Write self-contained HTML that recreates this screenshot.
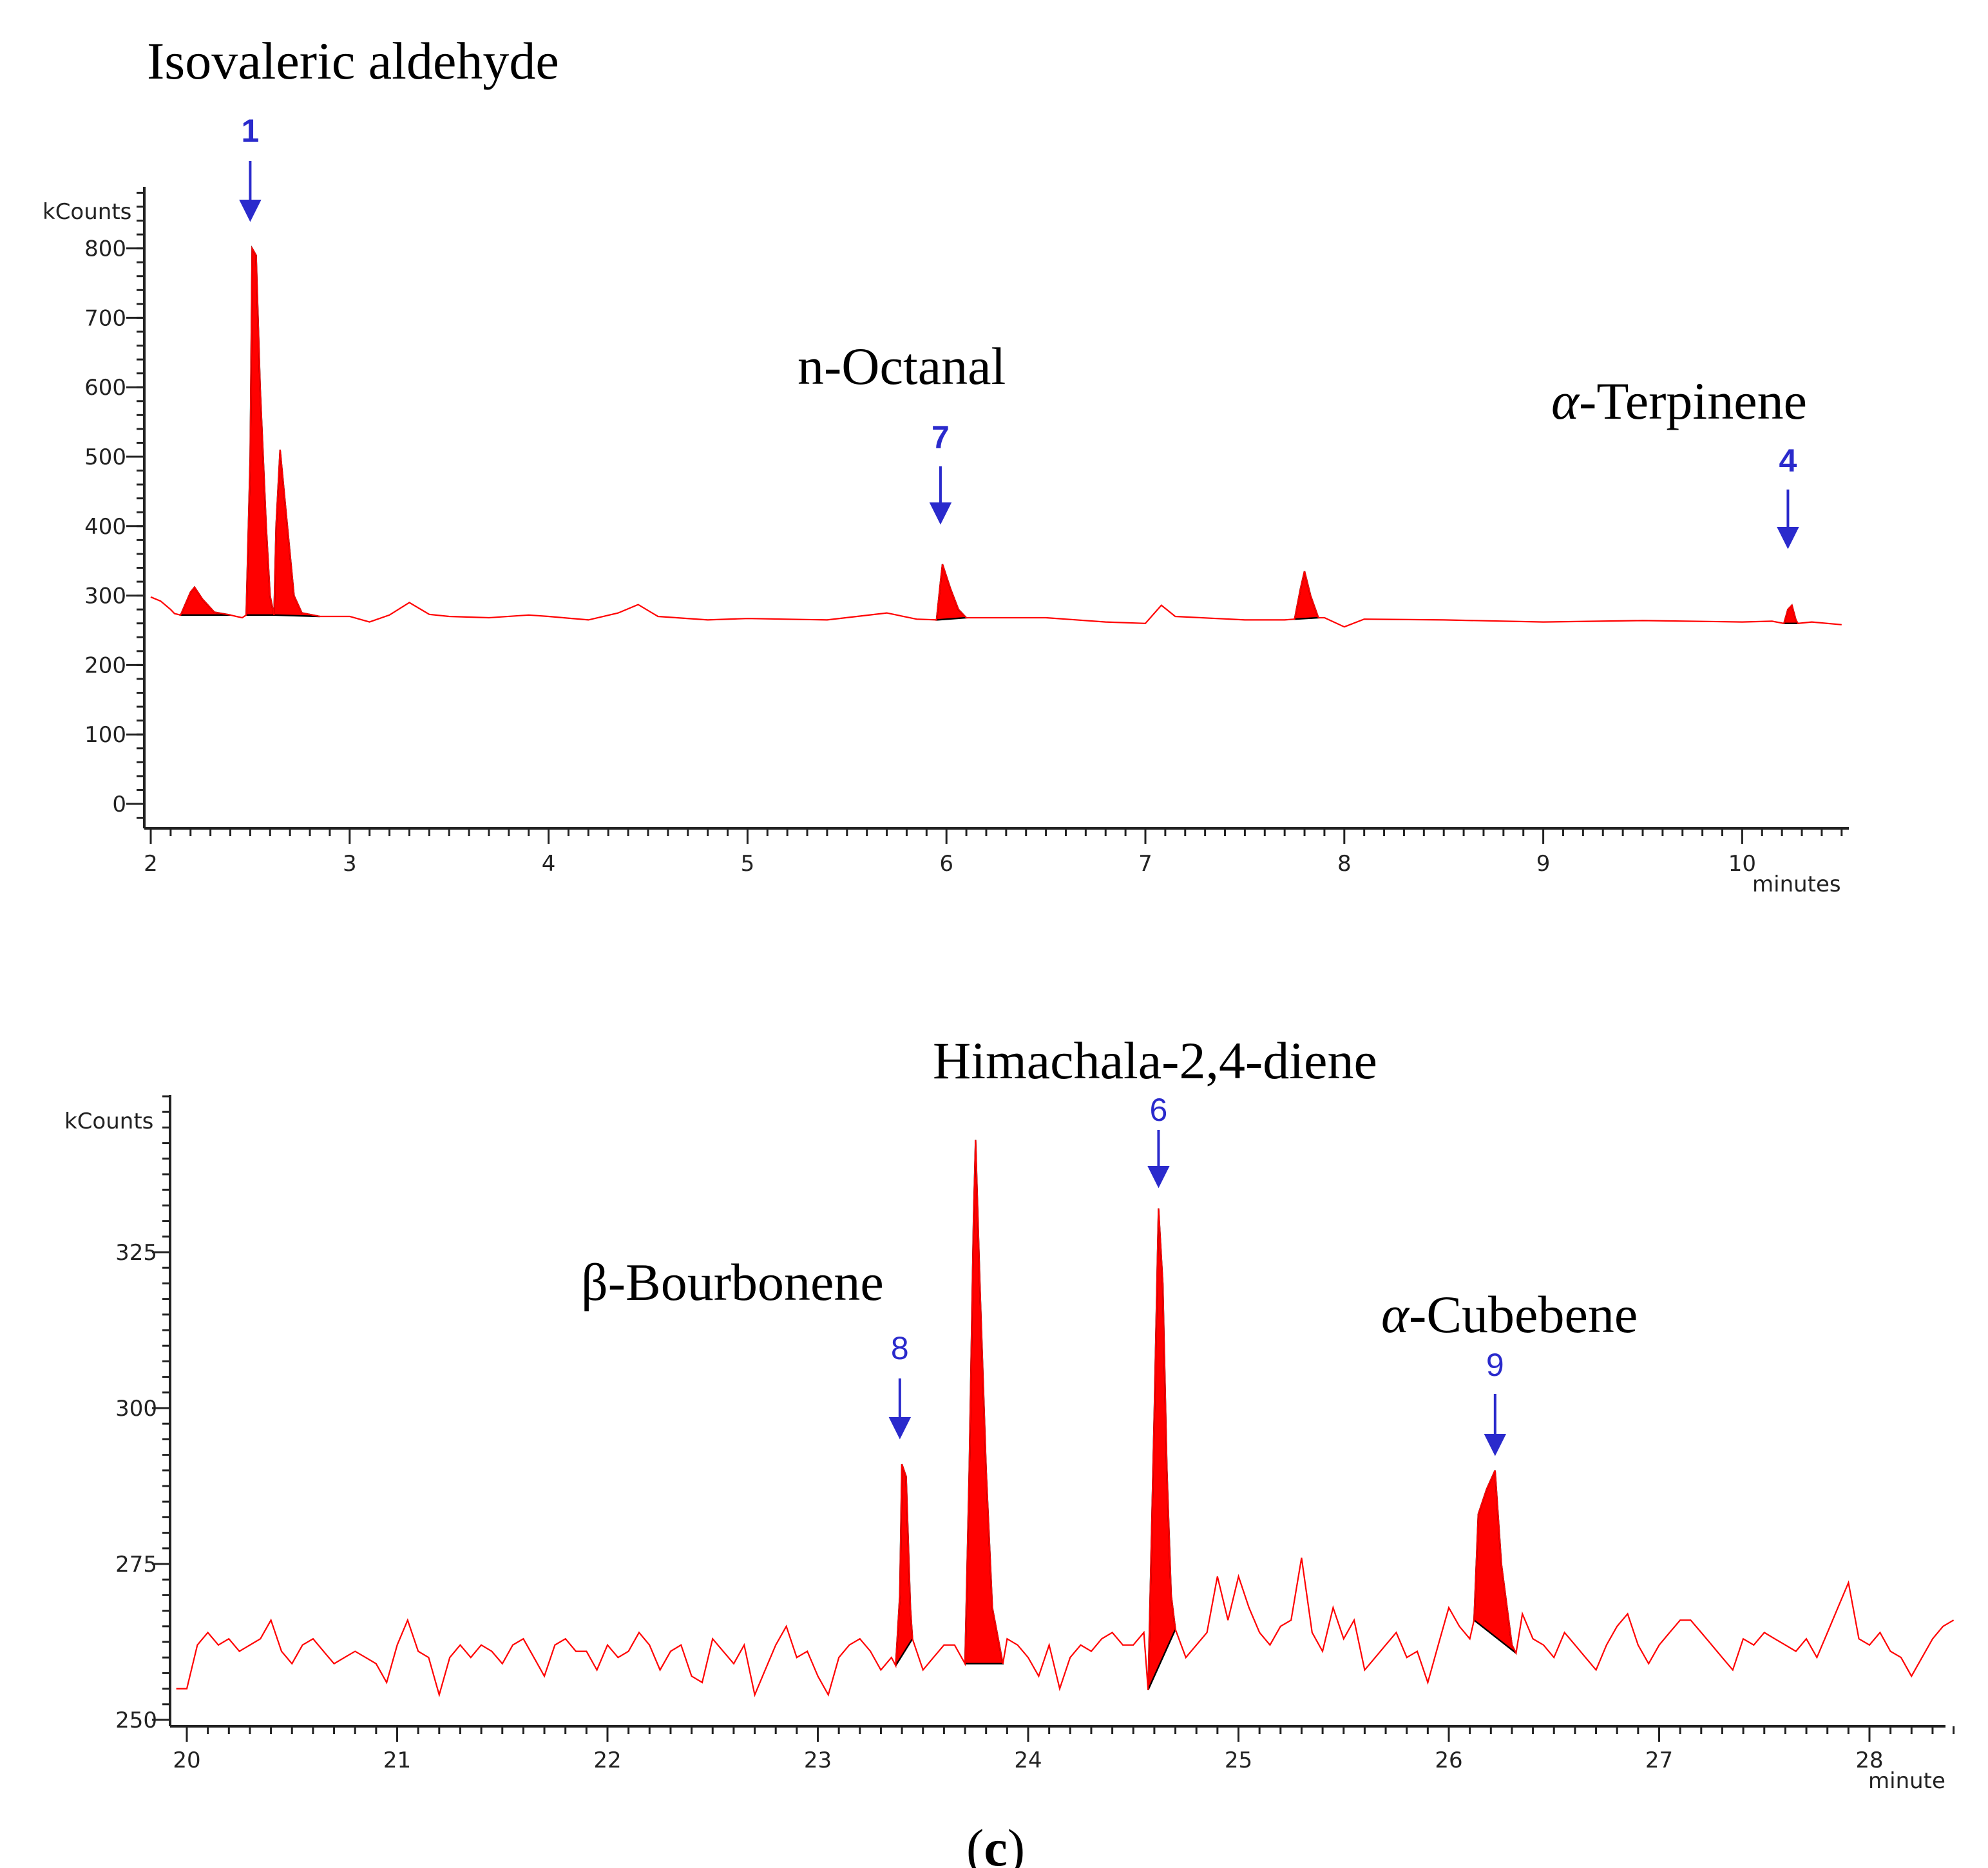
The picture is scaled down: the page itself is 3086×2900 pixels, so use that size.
<!DOCTYPE html>
<html><head><meta charset="utf-8"><style>
html,body{margin:0;padding:0;background:#fff}
svg{display:block}
.ax{font-family:"DejaVu Sans","Liberation Sans",sans-serif;font-size:17px;fill:#222}
.lab{font-family:"Liberation Serif",serif;font-size:41px;fill:#000}
.num{font-family:"Liberation Sans",sans-serif;font-size:25px;fill:#2a2acc}
</style></head><body>
<svg id="svg" width="3086" height="2900" viewBox="0 0 1543 1450" xmlns="http://www.w3.org/2000/svg">
<g id="top"></g>
<g id="bot"></g>
<text class="lab" x="114" y="61">Isovaleric aldehyde</text>
<text class="lab" x="619" y="298">n-Octanal</text>
<text class="lab" x="1204" y="325"><tspan font-style="italic">α</tspan>-Terpinene</text>
<text class="lab" x="724" y="837">Himachala-2,4-diene</text>
<text class="lab" x="451" y="1009">β-Bourbonene</text>
<text class="lab" x="1072" y="1034"><tspan font-style="italic">α</tspan>-Cubebene</text>
<text class="lab" x="750" y="1448">(<tspan font-weight="bold">c</tspan>)</text>
</svg>
<script>
// ---- top chart data ----
const topBaseT=[2.0,2.05,2.1,2.12,2.43,2.46,2.9,3.0,3.1,3.2,3.3,3.4,3.5,3.7,3.9,4.0,4.2,4.35,4.45,4.55,4.8,5.0,5.4,5.7,5.85,6.2,6.5,6.8,7.0,7.08,7.15,7.5,7.7,7.9,8.0,8.1,8.5,9.0,9.5,10.0,10.15,10.35,10.5];
const topBaseV=[298,292,280,274,270,268,270,270,262,272,290,273,270,268,272,270,265,275,287,270,265,267,265,275,266,268,268,262,260,286,270,265,265,268,255,266,265,262,264,262,263,262,258];
const topPeakT=[[2.15,2.2,2.22,2.26,2.32,2.4],[2.48,2.5,2.51,2.53,2.55,2.58,2.6,2.62],[2.62,2.63,2.65,2.68,2.72,2.76,2.85],[5.95,5.97,5.98,6.02,6.06,6.1],[7.75,7.78,7.8,7.83,7.87],[10.21,10.23,10.25,10.27,10.28]];
const topPeakV=[[272,305,312,295,276,272],[272,500,800,790,600,400,300,272],[272,400,510,420,300,275,270],[265,320,345,310,280,268],[266,310,335,300,268],[260,280,286,265,260]];
const topYTicks=[0,100,200,300,400,500,600,700,800];
const topXTicks=[2,3,4,5,6,7,8,9,10];
// ---- bottom chart data ----
const botNoiseStart=19.95, botNoiseStep=0.05;
const botNoiseV=[255,
255,262,264,262,263,261,262,263,266,261,259,262,263,261,259,260,261,260,259,256,
262,266,261,260,254,260,262,260,262,261,259,262,263,260,257,262,263,261,261,258,
262,260,261,264,262,258,261,262,257,256,263,261,259,262,254,258,262,265,260,261,
257,254,260,262,263,261,258,260,259,260,258,260,262,262,259,259,261,262,263,262,
260,257,262,255,260,262,261,263,264,262,262,264,265,266,263,260,262,264,273,266,
273,268,264,262,265,266,276,264,261,268,263,266,258,260,262,264,260,261,256,262,
268,265,263,265,262,264,263,267,263,262,260,264,262,260,258,262,265,267,262,259,
262,264,266,266,264,262,260,258,263,262,264,263,262,261,263,260,264,268,272,263,
262,264,261,260,257,260,263,265,266];
const botPeakT=[[23.37,23.39,23.4,23.42,23.44,23.45],[23.7,23.72,23.74,23.75,23.77,23.8,23.83,23.88],[24.57,24.6,24.62,24.64,24.66,24.68,24.7],[26.12,26.14,26.18,26.22,26.25,26.3,26.32]];
const botPeakV=[[258.7,270,291,289,268,263],[259,290,330,343,320,290,268,259],[254.8,300,332,320,290,270,264.5],[266,283,287,290,275,262,260.7]];
const botYTicks=[250,275,300,325];
const botXTicks=[20,21,22,23,24,25,26,27,28];
// annotations
const topMarks=[["1",2.5,110,125,170],["7",5.97,348,362,405],["4",10.23,366,380,424]];
const botMarks=[["8",23.39,1055,1070,1115],["6",24.62,870,877,920],["9",26.22,1068,1082,1128]];

const NS="http://www.w3.org/2000/svg";
function mk(tag,attrs,parent,txt){const e=document.createElementNS(NS,tag);for(const k in attrs)e.setAttribute(k,attrs[k]);if(txt!==undefined)e.textContent=txt;parent.appendChild(e);return e;}

function drawChart(g,cfg){
  const {x,y,axX,axTop,axBot,axRight,yMinor,yMin,yMax,xMin,xMax,yTicks,xTicks,peaksT,peaksV,traceT,traceV,marks,kx,ky,unitLbl,unitX,unitY,lblRight,xLblY}=cfg;
  let pts=[];for(let i=0;i<traceT.length;i++)pts.push([traceT[i],traceV[i]]);
  peaksT.forEach((pt,j)=>{pts=pts.filter(p=>p[0]<pt[0]||p[0]>pt[pt.length-1]);pt.forEach((t,i)=>pts.push([t,peaksV[j][i]]));});
  pts.sort((a,b)=>a[0]-b[0]);
  pts=pts.filter(p=>p[0]>=xMin&&p[0]<=xMax);
  peaksT.forEach((pt,j)=>{
    const d=pt.map((t,i)=>(i?'L':'M')+x(t).toFixed(1)+','+y(peaksV[j][i]).toFixed(1)).join('')+'Z';
    const p=mk('path',{d:d,fill:'#f00',stroke:'#000','stroke-width':1.2},g);
    
    
  });
  const line=mk('polyline',{points:pts.map(p=>x(p[0]).toFixed(1)+','+y(p[1]).toFixed(1)).join(' '),fill:'none',stroke:'#f00','stroke-width':1.1},g);
  
  
  const ya=mk('line',{x1:axX,y1:axTop,x2:axX,y2:axBot,stroke:'#222','stroke-width':2},g);
  
  
  const xa=mk('line',{x1:axX,y1:axBot,x2:axRight,y2:axBot,stroke:'#222','stroke-width':2},g);
  
  
  for(let v=yMin;v<=yMax+1e-6;v+=yMinor){const yy=y(v);if(yy<axTop||yy>axBot)continue;mk('line',{x1:axX-6,y1:yy,x2:axX,y2:yy,stroke:'#222','stroke-width':1.5},g);}
  yTicks.forEach(v=>{const yy=y(v);mk('line',{x1:axX-14,y1:yy,x2:axX,y2:yy,stroke:'#222','stroke-width':1.5},g);
    const t=mk('text',{class:'ax',x:lblRight,y:yy+6,'text-anchor':'end'},g,String(v));
    
    });
  for(let i=Math.ceil(xMin*10);i<=xMax*10;i++){const xx=x(i/10);if(xx<axX)continue;const major=i%10===0;
    mk('line',{x1:xx,y1:axBot,x2:xx,y2:axBot+(major?12:6),stroke:'#222','stroke-width':1.5},g);}
  xTicks.forEach(v=>{const t=mk('text',{class:'ax',x:x(v),y:xLblY,'text-anchor':'middle'},g,String(v));
    
    });
  const k=mk('text',{class:'ax',x:kx,y:ky},g,'kCounts');
  
  
  const u=mk('text',{class:'ax',x:unitX,y:unitY},g,unitLbl);
  
  
  marks.forEach(m=>{const xx=x(m[1]);
    const t=mk('text',{class:'num',x:xx,y:m[2],'text-anchor':'middle','font-weight':cfg.bold?'bold':'normal'},g,m[0]);
    
    
    const a=mk('path',{d:`M${xx},${m[3]}L${xx},${m[4]-12}M${xx-7},${m[4]-14}L${xx+7},${m[4]-14}L${xx},${m[4]}Z`,stroke:'#2a2acc','stroke-width':2,fill:'#2a2acc'},g);
    
    });
}
drawChart(document.getElementById('top'),{
  x:t=>117+(t-2)*154.4,y:v=>624-v*0.539,axX:112,axTop:145,axBot:643,axRight:1435,yMinor:20,yMin:-20,yMax:900,xMin:1.96,xMax:10.5,
  yTicks:topYTicks,xTicks:topXTicks,peaksT:topPeakT,peaksV:topPeakV,traceT:topBaseT,traceV:topBaseV,marks:topMarks,
  kx:33,ky:170,unitLbl:'minutes',unitX:1360,unitY:692,lblRight:98,xLblY:676,bold:true});
const botT=botNoiseV.map((v,i)=>+(botNoiseStart+i*botNoiseStep).toFixed(2));
drawChart(document.getElementById('bot'),{
  x:t=>145+(t-20)*163.25,y:v=>1335-(v-250)*4.84,axX:132,axTop:850,axBot:1340,axRight:1510,yMinor:2.5,yMin:247.5,yMax:350,xMin:19.92,xMax:28.4,
  yTicks:botYTicks,xTicks:botXTicks,peaksT:botPeakT,peaksV:botPeakV,traceT:botT,traceV:botNoiseV,marks:botMarks,
  kx:50,ky:876,unitLbl:'minute',unitX:1450,unitY:1388,lblRight:122,xLblY:1372,bold:false});
</script>
</body></html>
